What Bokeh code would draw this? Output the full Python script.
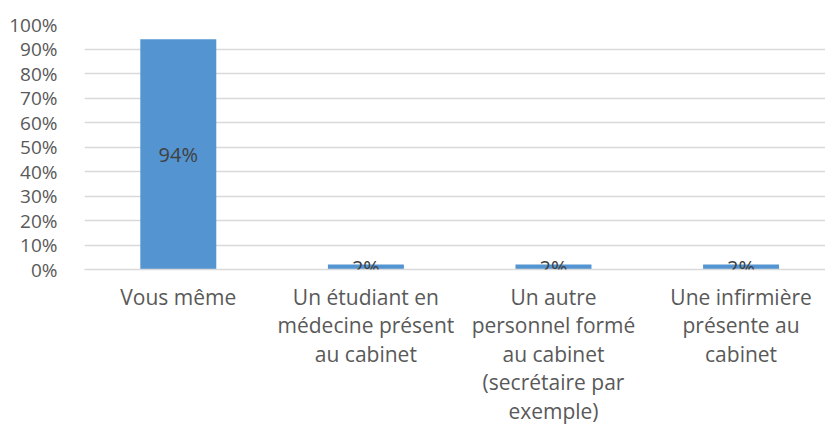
from bokeh.plotting import figure
from bokeh.models import ColumnDataSource, Range1d, FixedTicker, NumeralTickFormatter, LabelSet
from bokeh.core.properties import value
from bokeh.embed import file_html
from bokeh.resources import INLINE

categories = ["Vous même",
              "Un étudiant en\nmédecine présent\nau cabinet",
              "Un autre\npersonnel formé\nau cabinet\n(secrétaire par\nexemple)",
              "Une infirmière\nprésente au\ncabinet"]
values = [0.94, 0.02, 0.02, 0.02]
value_labels = ["94%", "2%", "2%", "2%"]
y_ticks = [0, 0.1, 0.2, 0.3, 0.4, 0.5, 0.6, 0.7, 0.8, 0.9, 1.0]

xs = [i + 0.5 for i in range(len(categories))]
src = ColumnDataSource(dict(x=xs, top=values, mid=[v / 2 for v in values], lab=value_labels))

FONT = "Open Sans"
p = figure(width=825, height=427, output_backend="svg", toolbar_location=None,
           x_range=Range1d(0, 3.95), y_range=Range1d(0, 1.0),
           min_border_top=24, min_border_right=0, min_border_left=84, min_border_bottom=0)
p.outline_line_color = None
p.background_fill_color = "white"
p.border_fill_color = "white"

p.vbar(x="x", top="top", bottom=0, width=0.405, source=src,
       fill_color="#5494d1", line_color=None)

labels = LabelSet(x="x", y="mid", text="lab", source=src, text_align="center",
                  text_baseline="middle", text_font=value(FONT), text_font_size="20px",
                  text_color="#404040")
p.add_layout(labels)

p.yaxis.ticker = FixedTicker(ticks=y_ticks)
p.yaxis.formatter = NumeralTickFormatter(format="0%")
p.yaxis.axis_line_color = None
p.yaxis.major_tick_line_color = None
p.yaxis.minor_tick_line_color = None
p.yaxis.major_label_text_font = FONT
p.yaxis.major_label_text_font_size = "19px"
p.yaxis.major_label_text_color = "#595959"
p.yaxis.major_label_standoff = 21

p.xaxis.ticker = FixedTicker(ticks=xs)
p.xaxis.major_label_overrides = {x: c for x, c in zip(xs, categories)}
p.xaxis.axis_line_color = "#d9d9d9"
p.xaxis.axis_line_width = 1.5
p.xaxis.major_tick_line_color = None
p.xaxis.minor_tick_line_color = None
p.xaxis.major_label_text_font = FONT
p.xaxis.major_label_text_font_size = "21px"
p.xaxis.major_label_text_color = "#595959"
p.xaxis.major_label_text_line_height = 1.02
p.xaxis.major_label_standoff = 7

p.xgrid.grid_line_color = None
p.ygrid.grid_line_color = "#d9d9d9"
p.ygrid.grid_line_width = 1.5

open("out.html", "w").write(file_html(p, INLINE))
